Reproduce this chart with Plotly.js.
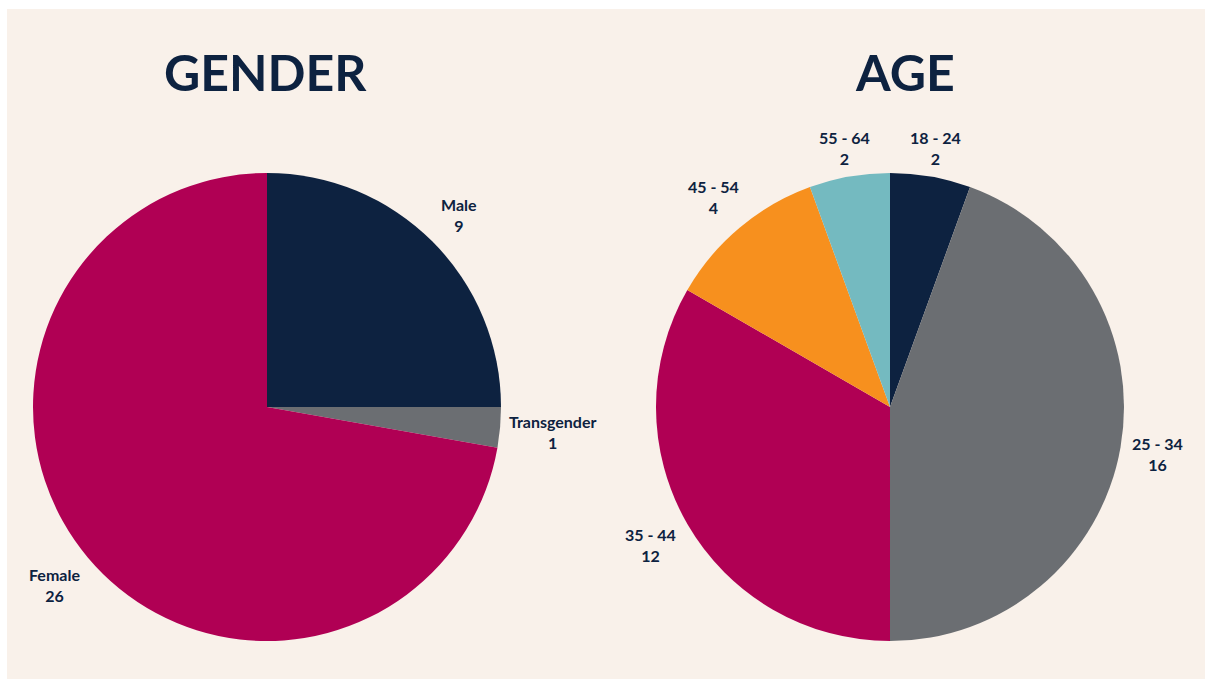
<!DOCTYPE html>
<html><head><meta charset="utf-8">
<script src="https://cdn.plot.ly/plotly-3.0.1.min.js"></script>
<style>body{margin:0;background:#fff}#chart{width:1205px;height:679px}</style>
</head><body><div id="chart"></div>
<script>
const genderLabels = ["Male", "Transgender", "Female"];
const genderValues = [9, 1, 26];
const genderColors = ["#0d2240", "#6b6e72", "#b00054"];

const ageLabels = ["18 - 24", "25 - 34", "35 - 44", "45 - 54", "55 - 64"];
const ageValues = [2, 16, 12, 4, 2];
const ageColors = ["#0d2240", "#6b6e72", "#b00054", "#f7901e", "#74bac0"];

const W = 1205, H = 679;
const R = 234;
const pies = [
  {labels: genderLabels, values: genderValues, colors: genderColors, cx: 267, cy: 407, title: "GENDER", tx: 265},
  {labels: ageLabels, values: ageValues, colors: ageColors, cx: 890, cy: 407, title: "AGE", tx: 905}
];
const labelDist = [[272, 287, 277], [263, 272, 276, 274, 263]];

const navy = "#0d2240";
const traces = [], annotations = [];
pies.forEach((p, i) => {
  traces.push({
    type: "pie", labels: p.labels, values: p.values, sort: false,
    direction: "clockwise", rotation: 0,
    marker: {colors: p.colors, line: {width: 0}},
    textinfo: "none", hoverinfo: "label+value", showlegend: false,
    domain: {x: [(p.cx - R) / W, (p.cx + R) / W], y: [1 - (p.cy + R) / H, 1 - (p.cy - R) / H]}
  });
  const total = p.values.reduce((a, b) => a + b, 0);
  let cum = 0;
  p.values.forEach((v, j) => {
    const mid = (cum + v / 2) / total * 2 * Math.PI;
    cum += v;
    const d = labelDist[i][j];
    const x = p.cx + d * Math.sin(mid), y = p.cy - d * Math.cos(mid);
    annotations.push({
      xref: "paper", yref: "paper", x: x / W, y: 1 - y / H,
      xanchor: "center", yanchor: "middle", showarrow: false,
      text: p.labels[j] + "<br>" + v,
      font: {family: "Lato", size: 16, color: navy, weight: 700}
    });
  });
  annotations.push({
    xref: "paper", yref: "paper", x: p.tx / W, y: 1 - 72 / H,
    xanchor: "center", yanchor: "middle", showarrow: false,
    text: "<b>" + p.title + "</b>",
    font: {family: "Lato", size: 50, color: navy, weight: 900}
  });
});

const layout = {
  width: W, height: H,
  margin: {l: 0, r: 0, t: 0, b: 0},
  paper_bgcolor: "#f9f1ea",
  annotations: annotations,
  shapes: [
    {type: "rect", xref: "paper", yref: "paper", x0: 0, x1: 7 / W, y0: 0, y1: 1, fillcolor: "#ffffff", line: {width: 0}},
    {type: "rect", xref: "paper", yref: "paper", x0: 0, x1: 1, y0: 1 - 9 / H, y1: 1, fillcolor: "#ffffff", line: {width: 0}}
  ]
};
Plotly.newPlot("chart", traces, layout, {displayModeBar: false, staticPlot: true});
</script></body></html>
